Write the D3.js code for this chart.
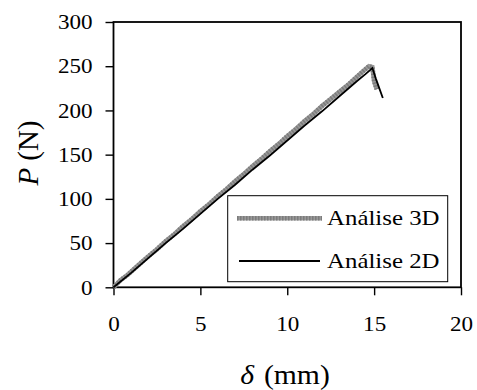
<!DOCTYPE html>
<html>
<head>
<meta charset="utf-8">
<script src="https://cdn.jsdelivr.net/npm/d3@7"></script>
<style>
  html, body { margin: 0; padding: 0; background: #fff; }
  svg { display: block; }
  text { font-family: "Liberation Serif", "Times New Roman", serif; fill: #000; }
</style>
</head>
<body>
<svg id="chart" width="477" height="390"></svg>
<script>
// delta (mm) and load P (N)
const x3d = [0, 0.4, 0.8, 1.2, 1.6, 2.0, 2.5, 3.0, 3.5, 4.0, 4.5, 5.0, 5.5, 6.0, 6.5, 7.0, 7.5,
             8.0, 8.5, 9.0, 9.5, 10.0, 10.5, 11.0, 11.5, 12.0, 12.5, 13.0, 13.5, 14.0, 14.4,
             14.7, 14.9, 15.0, 15.15];
const p3d = [0, 8, 14, 21, 28, 35, 43, 52, 60, 69, 77, 86, 94, 103, 111, 120, 128,
             137, 145, 154, 162, 171, 179, 188, 196, 205, 213, 221, 229, 238, 245,
             250, 249, 233, 224];
const x2d = [0, 1, 2, 3, 4, 5, 6, 7, 8, 9, 10, 11, 12, 13, 14, 14.5, 14.9, 15.1, 15.3, 15.5];
const p2d = [0, 16, 33, 50, 66, 83, 100, 116, 133, 149, 166, 183, 199, 216, 233, 241, 248, 236, 225, 214];

const xTicks = [0, 5, 10, 15, 20];
const yTicks = [0, 50, 100, 150, 200, 250, 300];
const seriesNames = ["Análise 3D", "Análise 2D"];

const svg = d3.select("#chart");
const mLeft = 113.5, mRight = 461, mTop = 22, mBottom = 287.3;
const sx = 1.1; // the original type is slightly wide

const x = d3.scaleLinear().domain([0, 20]).range([mLeft, mRight]);
const y = d3.scaleLinear().domain([0, 300]).range([mBottom, mTop]);

// axes
const yAxis = svg.append("g")
    .attr("transform", `translate(${mLeft},0)`)
    .call(d3.axisLeft(y).tickValues(yTicks).tickSize(8).tickPadding(11));
const xAxis = svg.append("g")
    .attr("transform", `translate(0,${mBottom})`)
    .call(d3.axisBottom(x).tickValues(xTicks).tickSize(8).tickPadding(21));

[yAxis, xAxis].forEach(g => {
  g.select(".domain").remove();
  g.selectAll("line").attr("stroke", "#000").attr("stroke-width", 1.4);
  g.selectAll("text")
    .attr("font-family", "Liberation Serif, serif")
    .attr("font-size", 21)
    .attr("transform", `scale(${sx},1)`);
});

// plot frame
svg.append("rect")
    .attr("x", mLeft).attr("y", mTop)
    .attr("width", mRight - mLeft).attr("height", mBottom - mTop)
    .attr("fill", "none").attr("stroke", "#000").attr("stroke-width", 1.8);

// lines
const line = d3.line().x(d => x(d[0])).y(d => y(d[1]));
const d3d = x3d.map((v, i) => [v, p3d[i]]);
const d2d = x2d.map((v, i) => [v, p2d[i]]);

// grey thick line with a faint dotted texture, as in the original
function greyStroke(sel) {
  sel.attr("fill", "none").attr("stroke", "#999").attr("stroke-width", 4.5);
}
function greyDots(sel) {
  sel.attr("fill", "none").attr("stroke", "#7c7c7c").attr("stroke-width", 4.5)
     .attr("stroke-dasharray", "1.5 1.5");
}
svg.append("path").datum(d3d).attr("d", line).call(greyStroke);
svg.append("path").datum(d3d).attr("d", line).call(greyDots);
svg.append("path").datum(d2d)
    .attr("d", line)
    .attr("fill", "none").attr("stroke", "#000").attr("stroke-width", 1.8);

// legend
const lg = svg.append("g");
lg.append("rect")
    .attr("x", 227.7).attr("y", 195.7).attr("width", 220).attr("height", 86)
    .attr("fill", "#fff").attr("stroke", "#000").attr("stroke-width", 1);
const legendRows = [
  { name: seriesNames[0], grey: true, ly: 218.3, x0: 237, x1: 322 },
  { name: seriesNames[1], grey: false, ly: 261, x0: 239, x1: 320 }
];
legendRows.forEach(r => {
  const seg = [[r.x0, r.ly], [r.x1, r.ly]];
  if (r.grey) {
    lg.append("path").attr("d", d3.line()(seg)).call(greyStroke);
    lg.append("path").attr("d", d3.line()(seg)).call(greyDots);
  } else {
    lg.append("path").attr("d", d3.line()(seg))
        .attr("stroke", "#000").attr("stroke-width", 1.8);
  }
  lg.append("text")
      .attr("transform", `translate(327,${r.ly + 6.7}) scale(1.13,1)`)
      .attr("font-size", 22)
      .text(r.name);
});

// axis titles
const yt = svg.append("text")
    .attr("transform", "translate(38,153) rotate(-90)")
    .attr("text-anchor", "middle")
    .attr("font-size", 29);
yt.append("tspan").attr("font-style", "italic").text("P");
yt.append("tspan").attr("dx", 7).text("(N)");

const xt = svg.append("text")
    .attr("transform", `translate(285,384) scale(${sx},1)`)
    .attr("text-anchor", "middle")
    .attr("font-size", 27);
xt.append("tspan").attr("font-style", "italic").text("δ");
xt.append("tspan").attr("dx", 9).text("(mm)");
</script>
</body>
</html>
